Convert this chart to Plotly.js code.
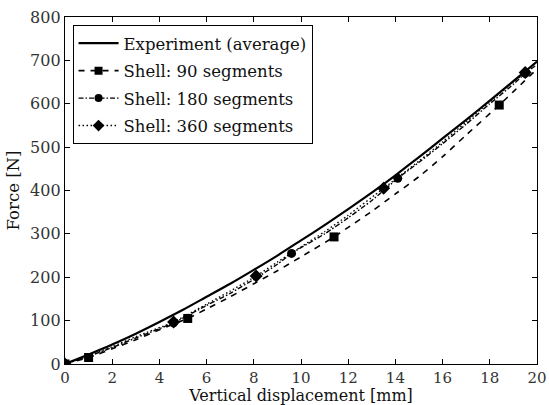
<!DOCTYPE html>
<html>
<head>
<meta charset="utf-8">
<script src="https://cdn.plot.ly/plotly-3.0.1.min.js"></script>
<style>html,body{margin:0;padding:0;background:#fff;}#chart{width:549px;height:405px;}</style>
</head>
<body>
<div id="chart"></div>
<script>
// Experiment (average)
var expX = [0,1,2,3,4,5,6,7,8,9,10,11,12,13,14,15,16,17,18,19,20];
var expY = [0,22,45,70,97,125,155,185,217,250,285,320,357,395,435,477,520,563,607,652,697];

// Shell: 90 segments (dashed)
var s90X = [0,1.0,2,3,4,5.2,6,7,8,9,10,11.4,12,13,14,15,16,17,18.4,19,20];
var s90Y = [0,15,35,56,79,105,127,155,185,215,247,293,315,352,392,432,478,528,597,628,680];
var s90MX = [0,1.0,5.2,11.4,18.4];
var s90MY = [0,15,105,293,597];

// Shell: 180 segments (dash-dot)
var s180X = [0,1,2,3,4.6,6,7,8,9,9.6,11,12,13,14.1,15,16,17,18,19,19.5,20];
var s180Y = [0,18,38,60,95,135,163,195,230,255,300,337,377,428,465,508,553,600,645,670,690];
var s180MX = [0,4.6,9.6,14.1,19.5];
var s180MY = [0,95,255,428,670];

// Shell: 360 segments (dotted)
var s360X = [0,1,2,3,4.6,6,7,8.1,9,10,11,12,13.5,15,16,17,18,19,19.5,20];
var s360Y = [0,19,40,63,97,138,168,203,235,270,305,343,405,468,512,558,605,650,672,697];
var s360MX = [0,4.6,8.1,13.5,19.5];
var s360MY = [0,97,203,405,672];

var names = ['Experiment (average)','Shell: 90 segments','Shell: 180 segments','Shell: 360 segments'];
var xTicks = [0,2,4,6,8,10,12,14,16,18,20];
var yTicks = [0,100,200,300,400,500,600,700,800];

var fontFam = '"DejaVu Serif", "Liberation Serif", serif';

var traces = [
  {x: expX, y: expY, mode:'lines', line:{color:'#000', width:2.2, shape:'spline', smoothing:0.6}, showlegend:false, hoverinfo:'skip'},
  {x: s90X, y: s90Y, mode:'lines', line:{color:'#000', width:1.6, dash:'6px,6px', shape:'spline', smoothing:0.6}, showlegend:false},
  {x: s90MX, y: s90MY, mode:'markers', marker:{symbol:'square', size:9, color:'#000'}, showlegend:false},
  {x: s180X, y: s180Y, mode:'lines', line:{color:'#000', width:1.4, dash:'5px,2px,1.5px,2px', shape:'spline', smoothing:0.6}, showlegend:false},
  {x: s180MX, y: s180MY, mode:'markers', marker:{symbol:'circle', size:9, color:'#000'}, showlegend:false},
  {x: s360X, y: s360Y, mode:'lines', line:{color:'#000', width:1.4, dash:'1.5px,2.5px', shape:'spline', smoothing:0.6}, showlegend:false},
  {x: s360MX, y: s360MY, mode:'markers', marker:{symbol:'diamond', size:10, color:'#000'}, showlegend:false},
  // legend entries
  {x:[null], y:[null], name:names[0], legendgroup:'a', mode:'lines', line:{color:'#000', width:2.2}},
  {x:[null], y:[null], name:names[1], legendgroup:'b', mode:'lines+markers', line:{color:'#000', width:1.6, dash:'6px,6px'}, marker:{symbol:'square', size:8, color:'#000'}},
  {x:[null], y:[null], name:names[2], legendgroup:'c', mode:'lines+markers', line:{color:'#000', width:1.4, dash:'5px,2px,1.5px,2px'}, marker:{symbol:'circle', size:8, color:'#000'}},
  {x:[null], y:[null], name:names[3], legendgroup:'d', mode:'lines+markers', line:{color:'#000', width:1.4, dash:'1.5px,2.5px'}, marker:{symbol:'diamond', size:9, color:'#000'}}
];

var layout = {
  width:549, height:405,
  margin:{l:65, r:12, t:17, b:41},
  paper_bgcolor:'#fff', plot_bgcolor:'#fff',
  font:{family:fontFam, color:'#222', size:15},
  showlegend:true,
  legend:{x:0.016, y:0.977, xanchor:'left', yanchor:'top', bgcolor:'#fff', bordercolor:'#000', borderwidth:1,
          font:{family:fontFam, size:16.5, color:'#111'}, tracegroupgap:3, itemwidth:40},
  xaxis:{range:[0,20], tickvals:xTicks, ticktext:xTicks.map(String), ticks:'inside', ticklen:5, tickcolor:'#000',
         mirror:'ticks', showline:true, linecolor:'#000', linewidth:1.2, showgrid:false, zeroline:false,
         tickfont:{family:fontFam, size:15, color:'#333'},
         title:{text:'Vertical displacement [mm]', font:{family:fontFam, size:16, color:'#111'}, standoff:1}},
  yaxis:{range:[0,800], tickvals:yTicks, ticktext:yTicks.map(String), ticks:'inside', ticklen:5, tickcolor:'#000',
         mirror:'ticks', showline:true, linecolor:'#000', linewidth:1.2, showgrid:false, zeroline:false,
         tickfont:{family:fontFam, size:16, color:'#333'},
         title:{text:'Force [N]', font:{family:fontFam, size:16.5, color:'#111'}, standoff:6}}
};

Plotly.newPlot('chart', traces, layout, {displayModeBar:false, staticPlot:true});
</script>
</body>
</html>
